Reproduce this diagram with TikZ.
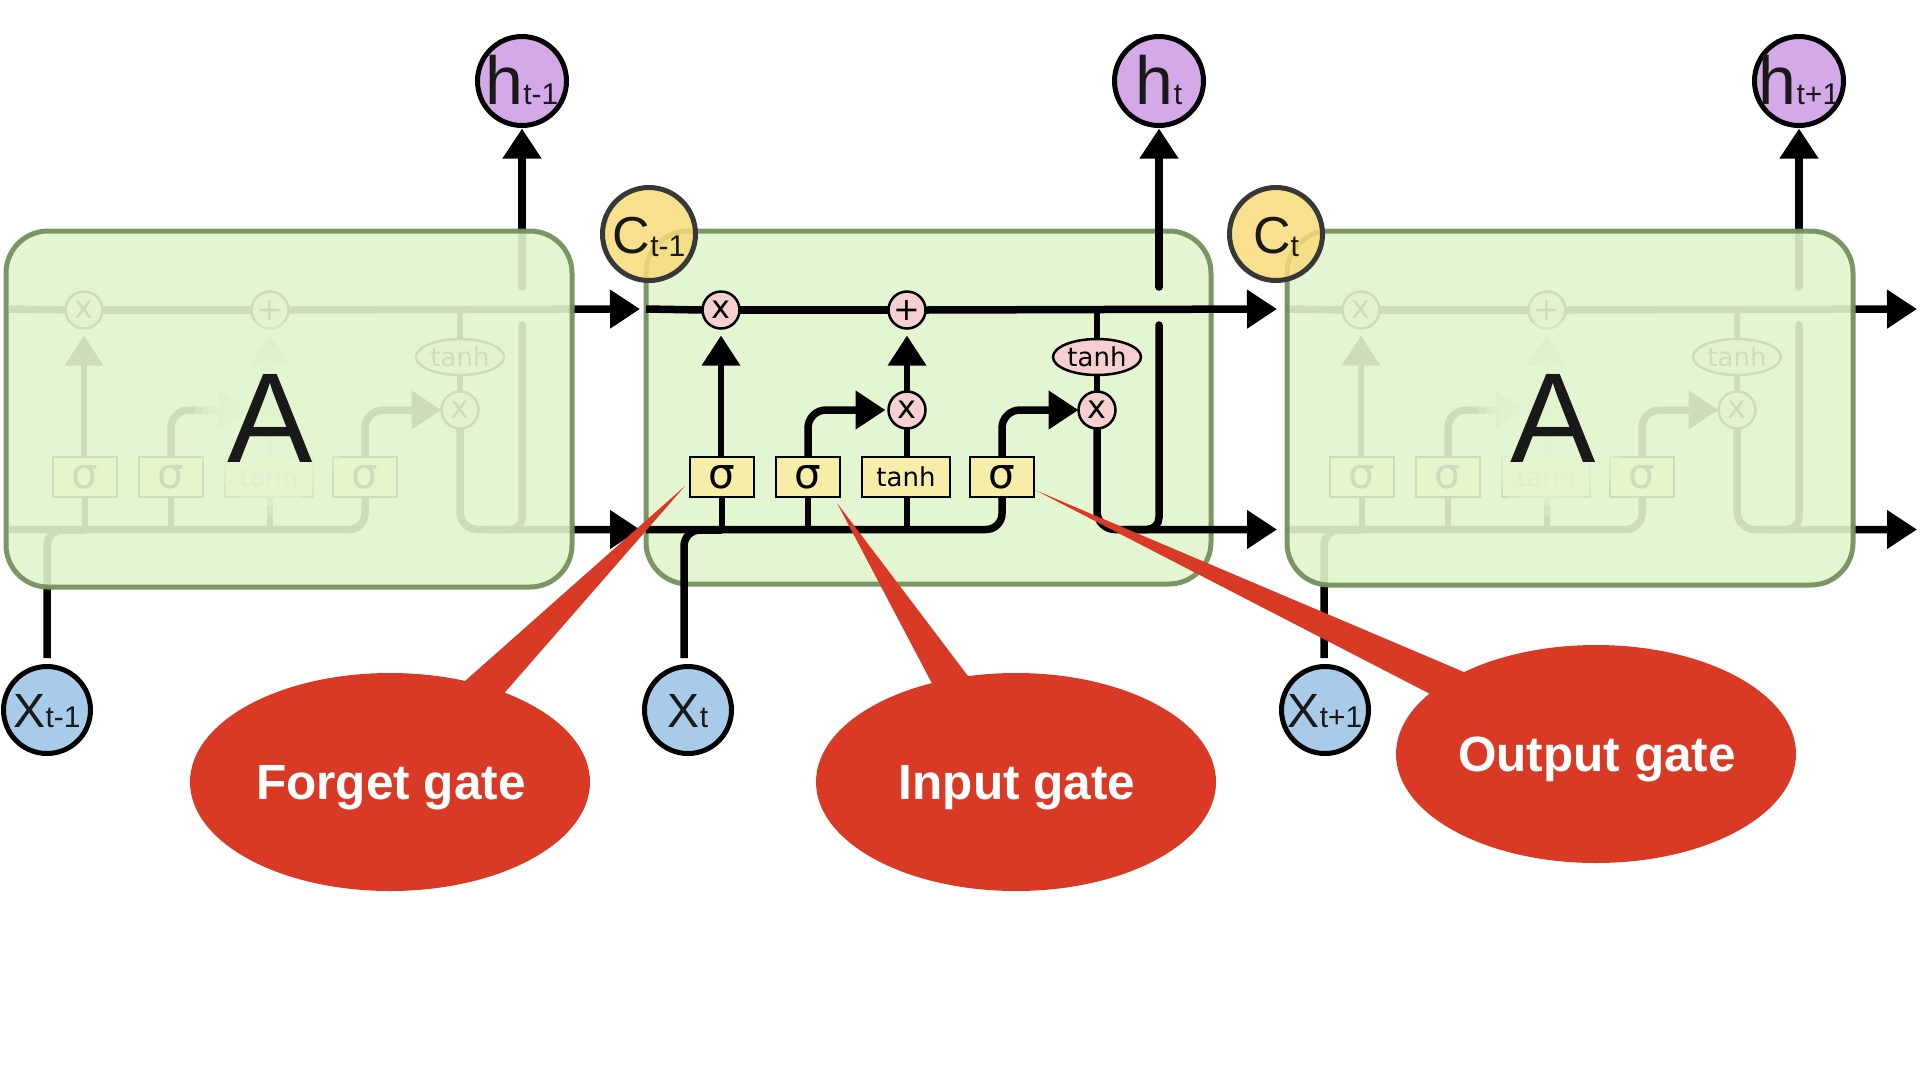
\documentclass[tikz,border=0pt]{standalone}
\usepackage{fontspec}
\setmainfont{Liberation Sans}
\newfontfamily\djv{DejaVu Sans}
\usetikzlibrary{arrows.meta,shapes.geometric}
\definecolor{cellfill}{HTML}{E4F6D1}
\definecolor{cellline}{HTML}{75915F}
\definecolor{gatepink}{HTML}{F6D0D0}
\definecolor{boxyellow}{HTML}{F6EEA8}
\definecolor{hpurple}{HTML}{D3A9E8}
\definecolor{xblue}{HTML}{A9CBEA}
\definecolor{cyellow}{HTML}{F8DB7A}
\definecolor{calloutred}{HTML}{D93A25}
\newcommand{\fsz}[1]{\fontsize{#1pt}{#1pt}\selectfont}
\tikzset{
  x=1pt,y=-1pt,
  wire/.style={line width=7.5pt,draw=black},
  stem/.style={line width=6.5pt,draw=black},
  head/.style={-{Triangle[length=30pt,width=37pt]}},
  gateop/.style={circle,draw=black,fill=gatepink,line width=2.5pt,minimum size=37pt,inner sep=0pt,outer sep=0pt,font=\djv\fsz{32}},
  gatebox/.style={rectangle,draw=black,fill=boxyellow,line width=2.5pt,minimum height=40pt,inner sep=0pt,outer sep=0pt},
  sigmabox/.style={gatebox,minimum width=64pt,font=\djv\fsz{42}},
  tanhbox/.style={gatebox,minimum width=88pt,font=\djv\fsz{26}},
  tanhoval/.style={ellipse,draw=black,fill=gatepink,line width=2.5pt,minimum width=88pt,minimum height=36pt,inner sep=0pt,outer sep=0pt,font=\djv\fsz{26}},
  hcirc/.style={circle,draw=black,fill=hpurple,line width=5pt,minimum size=89pt,inner sep=0pt,outer sep=0pt},
  xcirc/.style={circle,draw=black,fill=xblue,line width=5pt,minimum size=87pt,inner sep=0pt,outer sep=0pt},
  ccirc/.style={circle,draw=black!78,fill=cyellow,fill opacity=.85,line width=5pt,minimum size=93pt,inner sep=0pt,outer sep=0pt},
  celltext/.style={anchor=base,inner sep=0pt,text=black!90},
  cellbody/.style={rounded corners=42pt,fill=cellfill},
  cellveil/.style={rounded corners=42pt,fill=cellfill,fill opacity=.9},
  cellrim/.style={rounded corners=42pt,draw=cellline,line width=5pt,draw opacity=.95},
  callout/.style={ellipse,fill=calloutred,minimum width=400pt,minimum height=218pt,inner sep=0pt,outer sep=0pt},
  callouttext/.style={anchor=base,inner sep=0pt,text=white,font=\bfseries\fsz{49.5}},
  tail/.style={fill=calloutred},
  bigA/.style={anchor=base,inner sep=0pt,text=black!90,font=\fsz{128}},
  veil/.style={fill=cellfill,fill opacity=.38},
}
% #1 prefix, #2 x offset, #3 h subscript
\newcommand{\cellinner}[3]{%
\begin{scope}[shift={(#2,0)}]
  \node[gateop] (#1m1) at (721,310) {x};
  \node[gateop] (#1p) at (907,310) {+};
  \node[gateop] (#1m2) at (907,410) {x};
  \node[gateop] (#1m3) at (1097,410) {x};
  \node[tanhoval] (#1to) at (1097,357) {tanh};
  \node[sigmabox] (#1s1) at (722,477) {σ};
  \node[sigmabox] (#1s2) at (808,477) {σ};
  \node[tanhbox] (#1tb) at (906,477) {tanh};
  \node[sigmabox] (#1s3) at (1002,477) {σ};
  \node[hcirc] (#1h) at (1159,81) {};
  \node[celltext] (#1hl) at (1159,104) {\fsz{68}h\fsz{30}#3};
  \coordinate (#1ts) at (646,309);
  \coordinate (#1tt) at (1277,309);
  \coordinate (#1bs) at (646,529.5);
  \coordinate (#1bm) at (1277,529.5);
  \coordinate (#1hu) at (1159,287);
  \coordinate (#1hd) at (1159,325);
  \coordinate (#1hj) at (1125,529.5);
  \coordinate (#1xs) at (684,658);
  \coordinate (#1xj) at (722,530);
  % cell state line
  \draw[wire] (#1ts) -- (#1m1.west);
  \draw[wire] (#1m1.east) -- (#1p.west);
  \draw[wire,head] (#1p.east) -- (#1tt);
  \draw[stem] (#1to.north) -- (#1to.north |- #1tt);
  \draw[stem] (#1to.south) -- (#1m3.north);
  % hidden line and gates
  \draw[wire,rounded corners=16pt] (#1bs) -| (#1s3.south);
  \draw[wire,rounded corners=16pt] (#1xs) |- (#1xj);
  \draw[stem] (#1s1.south) -- (#1s1.south |- #1bs);
  \draw[stem] (#1s2.south) -- (#1s2.south |- #1bs);
  \draw[stem] (#1m2 |- #1tb.south) -- (#1m2 |- #1bs);
  \draw[stem,head,shorten >=7pt] (#1s1.north -| #1m1) -- (#1m1.south);
  \draw[wire,head,rounded corners=18pt,shorten >=3pt] (#1s2.north) |- (#1m2.west);
  \draw[stem] (#1m2 |- #1tb.north) -- (#1m2.south);
  \draw[stem,head,shorten >=7pt] (#1m2.north) -- (#1p.south);
  \draw[wire,head,rounded corners=18pt] (#1s3.north) |- (#1m3.west);
  \draw[wire,head,rounded corners=18pt] (#1m3.south) |- (#1bm);
  \draw[wire,line cap=round,rounded corners=12pt] (#1hd) |- (#1hj);
  \draw[wire,line cap=round,head,shorten >=3pt] (#1hu) -- (#1h.south);
\end{scope}}
\begin{document}
\begin{tikzpicture}
\useasboundingbox (0,0) rectangle (1920,1080);
\fill[white] (0,0) rectangle (1920,1080);
% cell bases
\path[cellbody] (646,231) rectangle (1211,584);
\path[cellbody] (6,231) rectangle (572,587);
\path[cellbody] (1287,231) rectangle (1853,585);
% left and right cells
\cellinner{l}{-637}{t-1}
\path[cellveil] (6,231) rectangle (572,587);
\draw[cellrim] (6,231) rectangle (572,587);
\cellinner{r}{640}{t+1}
\path[cellveil] (1287,231) rectangle (1853,585);
\draw[cellrim] (1287,231) rectangle (1853,585);
\draw[cellrim] (646,231) rectangle (1211,584);
\cellinner{c}{0}{t}
% soft patches behind the letters A
\foreach \s in {1.0,.9,.8,.7,.6,.5}{
  \path[veil] (270,418) ellipse [x radius=\s*75pt,y radius=\s*98pt];
  \path[veil] (1553,418) ellipse [x radius=\s*75pt,y radius=\s*98pt];
}
\node[bigA] (al) at (270,462) {A};
\node[bigA] (ar) at (1553,462) {A};
% input circles
\node[xcirc] (x0) at (47,710) {};
\node[celltext] (x0l) at (47,727) {\fsz{48}X\fsz{30}t-1};
\node[xcirc] (x1) at (688,710) {};
\node[celltext] (x1l) at (688,727) {\fsz{48}X\fsz{30}t};
\node[xcirc] (x2) at (1325,710) {};
\node[celltext] (x2l) at (1325,727) {\fsz{48}X\fsz{30}t+1};
% cell state circles
\node[ccirc] (c0) at (649,234) {};
\node[celltext] (c0l) at (649,253) {\fsz{52}C\fsz{30}\raisebox{-3pt}{t-1}};
\node[ccirc] (c1) at (1276,234) {};
\node[celltext] (c1l) at (1276,253) {\fsz{52}C\fsz{30}\raisebox{-3pt}{t}};
% callouts
\coordinate (fg) at (685,486);
\coordinate (ig) at (837,503);
\coordinate (og) at (1035,490);
\fill[tail] (fg) -- (456,689) -- (500,698) -- cycle;
\fill[tail] (ig) -- (936,691) -- (974,684) -- cycle;
\fill[tail] (og) -- (1436,697) -- (1471,675) -- cycle;
\node[callout] (fgo) at (390,782) {};
\node[callouttext] (fgt) at (391,799) {Forget gate};
\node[callout] (igo) at (1016,782) {};
\node[callouttext] (igt) at (1017,799) {Input gate};
\node[callout] (ogo) at (1596,754) {};
\node[callouttext] (ogt) at (1597,771) {Output gate};
\end{tikzpicture}
\end{document}
